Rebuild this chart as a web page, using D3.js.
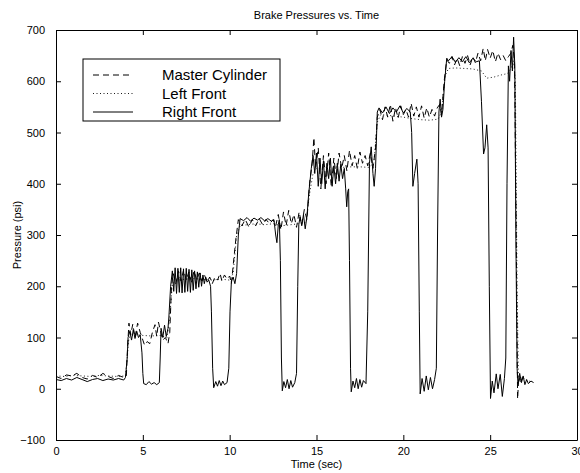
<!DOCTYPE html>
<html>
<head>
<meta charset="utf-8">
<script src="https://cdn.jsdelivr.net/npm/d3@7"></script>
<style>
  html, body { margin: 0; padding: 0; background: #fff; }
  svg { display: block; font-family: "Liberation Sans", Arial, Helvetica, sans-serif; }
</style>
</head>
<body>
<script>
// ---------------- DATA ----------------
const chartTitle = "Brake Pressures vs. Time";
const xLabel = "Time (sec)";
const yLabel = "Pressure (psi)";
const xTicks = [0, 5, 10, 15, 20, 25, 30];
const yTicks = [-100, 0, 100, 200, 300, 400, 500, 600, 700];
const seriesNames = ["Master Cylinder", "Left Front", "Right Front"];

// [time (sec), pressure (psi)]
const masterCylinder = [
  [0,24],[0.3,20],[0.6,27],[0.9,25],[1.2,30],[1.5,22],[1.8,19],[2.1,26],[2.4,22],[2.7,30],[3.0,24],[3.3,20],[3.6,26],[3.9,22],[4.05,25],
  [4.12,80],[4.2,128],[4.3,105],[4.42,126],[4.55,100],[4.7,128],[4.85,110],[5.0,95],[5.1,85],[5.25,92],[5.4,88],[5.55,110],[5.7,125],
  [5.8,102],[5.9,130],[6.0,115],[6.15,95],[6.3,100],[6.45,88],[6.55,110],[6.65,200],[6.75,225],[6.9,205],[7.05,230],[7.2,210],[7.35,232],
  [7.5,212],[7.65,228],[7.8,208],[7.95,230],[8.1,212],[8.25,226],[8.4,210],[8.55,222],[8.7,208],[8.85,218],[9.0,205],[9.15,218],[9.3,212],
  [9.45,225],[9.55,210],[9.7,222],[9.85,214],[10.0,220],[10.1,205],[10.2,240],[10.35,290],[10.5,330],[10.7,318],[10.9,330],[11.1,316],
  [11.3,330],[11.5,318],[11.7,332],[11.9,320],[12.1,330],[12.3,322],[12.5,330],[12.65,318],[12.8,340],[12.95,310],[13.1,345],[13.25,318],
  [13.4,348],[13.55,322],[13.7,340],[13.85,315],[14.0,345],[14.15,320],[14.3,350],[14.45,330],[14.6,400],[14.75,440],[14.85,490],[14.95,430],
  [15.1,470],[15.25,390],[15.4,455],[15.55,400],[15.7,460],[15.85,395],[16.0,450],[16.15,410],[16.3,460],[16.45,430],[16.6,455],[16.75,425],
  [16.9,465],[17.05,435],[17.2,455],[17.35,430],[17.5,462],[17.65,440],[17.8,455],[17.95,435],[18.1,460],[18.25,430],[18.4,470],[18.5,530],
  [18.65,545],[18.8,525],[18.95,550],[19.1,530],[19.25,555],[19.4,522],[19.55,548],[19.7,528],[19.85,552],[20.0,535],[20.15,545],[20.3,530],
  [20.45,557],[20.6,532],[20.75,550],[20.9,530],[21.05,552],[21.2,528],[21.35,548],[21.5,530],[21.65,545],[21.8,532],[21.95,548],[22.1,555],
  [22.2,535],[22.35,600],[22.5,642],[22.65,635],[22.8,648],[22.95,632],[23.1,645],[23.25,630],[23.4,648],[23.55,635],[23.7,650],[23.85,632],
  [24.0,648],[24.15,636],[24.3,655],[24.45,640],[24.6,664],[24.72,640],[24.85,662],[25.0,645],[25.15,660],[25.3,638],[25.45,655],[25.6,642],
  [25.75,650],[25.9,640],[26.05,648],[26.2,655],[26.3,670],[26.4,640],[26.5,300],[26.58,-20],[26.65,25],[26.75,10],[26.85,22],[26.95,12]
];

const leftFront = [
  [0,25],[0.5,24],[1.0,26],[1.5,25],[2.0,24],[2.5,26],[3.0,25],[3.5,24],[4.0,25],[4.1,60],[4.2,100],[4.5,106],[5.0,104],[5.5,103],[6.0,104],
  [6.4,100],[6.55,140],[6.7,205],[7.0,212],[7.5,214],[8.0,215],[8.5,213],[9.0,212],[9.5,214],[10.0,212],[10.2,225],[10.4,300],[10.6,318],
  [11.0,320],[11.5,322],[12.0,320],[12.5,322],[13.0,318],[13.5,320],[14.0,322],[14.4,325],[14.6,380],[14.8,420],[15.0,430],[15.5,432],
  [16.0,433],[16.5,432],[17.0,433],[17.5,433],[18.0,432],[18.3,440],[18.5,520],[18.7,535],[19.0,534],[19.5,532],[20.0,530],[20.5,527],
  [21.0,525],[21.5,524],[22.0,526],[22.2,540],[22.4,610],[22.6,625],[23.0,626],[23.5,625],[24.0,624],[24.5,620],[24.8,606],[25.2,608],
  [25.6,612],[26.0,615],[26.2,625],[26.35,640],[26.45,600],[26.55,200],[26.62,30],[26.7,20],[26.8,15],[26.9,22],[27.0,18],[27.2,15],[27.4,14]
];

const rightFront = [
  [0,18],[0.3,16],[0.6,20],[0.9,17],[1.2,22],[1.5,18],[1.8,14],[2.1,18],[2.4,20],[2.7,16],[3.0,19],[3.3,17],[3.6,20],[3.9,17],[4.0,22],
  [4.1,60],[4.15,100],[4.25,112],[4.35,95],[4.45,115],[4.55,98],[4.65,112],[4.75,100],[4.85,105],[4.95,70],[5.0,30],[5.05,10],[5.2,8],
  [5.35,14],[5.5,9],[5.65,12],[5.8,8],[5.95,12],[6.0,60],[6.05,118],[6.15,100],[6.25,124],[6.35,102],[6.45,118],[6.5,140],[6.6,200],
  [6.7,230],[6.78,190],[6.86,236],[6.94,186],[7.02,235],[7.1,188],[7.18,236],[7.26,187],[7.34,234],[7.42,188],[7.5,235],[7.58,190],[7.66,233],
  [7.74,188],[7.82,232],[7.9,192],[7.98,230],[8.06,195],[8.14,228],[8.22,198],[8.3,226],[8.38,200],[8.46,222],[8.54,205],[8.62,218],[8.7,208],
  [8.8,212],[8.9,200],[8.95,150],[9.02,40],[9.08,2],[9.2,14],[9.3,5],[9.4,16],[9.5,6],[9.6,15],[9.7,8],[9.85,12],[9.95,40],[10.02,150],
  [10.1,210],[10.2,218],[10.3,205],[10.4,225],[10.5,300],[10.6,332],[10.8,328],[11.0,334],[11.2,327],[11.4,333],[11.6,329],[11.8,334],
  [12.0,328],[12.2,332],[12.4,327],[12.55,330],[12.65,300],[12.72,285],[12.8,320],[12.86,330],[12.92,250],[12.98,60],[13.03,-4],[13.12,14],
  [13.22,2],[13.32,18],[13.42,0],[13.52,16],[13.62,3],[13.75,12],[13.85,30],[13.92,200],[13.98,320],[14.05,335],[14.15,318],[14.25,340],
  [14.35,312],[14.45,336],[14.55,380],[14.7,430],[14.8,455],[14.9,420],[15.0,460],[15.1,395],[15.2,450],[15.3,400],[15.4,445],[15.5,390],
  [15.6,440],[15.7,410],[15.8,450],[15.9,395],[16.0,435],[16.1,400],[16.2,440],[16.3,405],[16.4,438],[16.5,410],[16.6,430],[16.68,390],
  [16.74,355],[16.8,385],[16.85,390],[16.9,250],[16.96,40],[17.0,-6],[17.1,15],[17.2,2],[17.3,20],[17.4,0],[17.5,18],[17.6,3],[17.7,16],
  [17.85,10],[17.95,150],[18.05,440],[18.15,472],[18.25,420],[18.32,395],[18.4,430],[18.5,540],[18.6,548],[18.8,538],[19.0,550],[19.2,537],
  [19.4,548],[19.6,540],[19.8,552],[20.0,538],[20.2,547],[20.4,540],[20.48,500],[20.55,395],[20.65,420],[20.78,448],[20.85,400],[20.92,150],
  [20.97,-10],[21.08,20],[21.2,-5],[21.32,25],[21.44,-2],[21.56,22],[21.68,0],[21.8,18],[21.9,40],[21.97,300],[22.05,540],[22.12,565],
  [22.2,530],[22.28,545],[22.38,600],[22.5,645],[22.6,640],[22.8,648],[23.0,637],[23.2,646],[23.4,638],[23.6,648],[23.8,636],[24.0,645],
  [24.2,638],[24.38,640],[24.5,560],[24.62,458],[24.7,470],[24.8,515],[24.88,470],[24.95,200],[25.02,-19],[25.12,15],[25.22,-8],[25.35,29],
  [25.45,0],[25.58,28],[25.7,-15],[25.82,20],[25.9,60],[25.97,400],[26.05,630],[26.12,600],[26.2,660],[26.28,620],[26.35,686],[26.42,630],
  [26.48,300],[26.55,40],[26.6,10],[26.7,30],[26.8,12],[26.9,25],[27.0,8],[27.1,18],[27.2,10],[27.35,15],[27.5,12]
];

// ---------------- LAYOUT ----------------
const W = 580, H = 473;
const L = 56, R = 577, T = 30, B = 440;

const svg = d3.select("body").append("svg").attr("width", W).attr("height", H);

const x = d3.scaleLinear().domain([0, 30]).range([L, R]);
const y = d3.scaleLinear().domain([-100, 700]).range([B, T]);

const line = d3.line().x(d => x(d[0])).y(d => y(d[1]));

svg.append("clipPath").attr("id", "plotclip")
  .append("rect").attr("x", L).attr("y", T).attr("width", R - L).attr("height", B - T);

const plot = svg.append("g").attr("clip-path", "url(#plotclip)");

plot.append("path").datum(masterCylinder).attr("d", line)
  .attr("fill", "none").attr("stroke", "#000").attr("stroke-width", 1)
  .attr("stroke-dasharray", "6,4");
plot.append("path").datum(leftFront).attr("d", line)
  .attr("fill", "none").attr("stroke", "#000").attr("stroke-width", 0.9)
  .attr("stroke-dasharray", "1,2.5");
plot.append("path").datum(rightFront).attr("d", line)
  .attr("fill", "none").attr("stroke", "#000").attr("stroke-width", 1);

// Axes (MATLAB style: box with inward ticks on all four sides)
const tickLen = 5;
const fontTick = "11px";

const axB = svg.append("g").attr("transform", `translate(0,${B})`)
  .call(d3.axisBottom(x).tickValues(xTicks).tickSizeInner(-tickLen).tickSizeOuter(0).tickPadding(7).tickFormat(d3.format("d")));
const axT = svg.append("g").attr("transform", `translate(0,${T})`)
  .call(d3.axisTop(x).tickValues(xTicks).tickSizeInner(-tickLen).tickSizeOuter(0).tickFormat(""));
const axL = svg.append("g").attr("transform", `translate(${L},0)`)
  .call(d3.axisLeft(y).tickValues(yTicks).tickSizeInner(-tickLen).tickSizeOuter(0).tickPadding(11)
    .tickFormat(d => d < 0 ? "\u2212" + Math.abs(d) : String(d)));
const axR = svg.append("g").attr("transform", `translate(${R},0)`)
  .call(d3.axisRight(y).tickValues(yTicks).tickSizeInner(-tickLen).tickSizeOuter(0).tickFormat(""));

[axB, axT, axL, axR].forEach(g => {
  g.select(".domain").attr("stroke", "#000").attr("stroke-width", 1);
  g.selectAll(".tick line").attr("stroke", "#000").attr("stroke-width", 1);
  g.selectAll(".tick text").attr("fill", "#000").style("font-size", fontTick)
    .style("font-family", "'Liberation Sans', Arial, sans-serif");
});

// Title and labels
svg.append("text").attr("x", (L + R) / 2).attr("y", 19).attr("text-anchor", "middle")
  .style("font-size", "11px").text(chartTitle);
svg.append("text").attr("x", (L + R) / 2).attr("y", 468).attr("text-anchor", "middle")
  .style("font-size", "11px").text(xLabel);
svg.append("text").attr("transform", `translate(21,${(T + B) / 2}) rotate(-90)`).attr("text-anchor", "middle")
  .style("font-size", "11px").text(yLabel);

// Legend
const legX = 83, legY = 59, legW = 197, legH = 62;
const lg = svg.append("g");
lg.append("rect").attr("x", legX).attr("y", legY).attr("width", legW).attr("height", legH)
  .attr("fill", "#fff").attr("stroke", "#000").attr("stroke-width", 1);
const legStyles = [
  { dash: "6,4", w: 1 },
  { dash: "1,2.5", w: 0.9 },
  { dash: null, w: 1 }
];
const legRows = [75, 93.5, 112];
seriesNames.forEach((name, i) => {
  const ly = legRows[i];
  const ln = lg.append("line").attr("x1", 93).attr("x2", 133).attr("y1", ly).attr("y2", ly)
    .attr("stroke", "#000").attr("stroke-width", legStyles[i].w);
  if (legStyles[i].dash) ln.attr("stroke-dasharray", legStyles[i].dash);
  lg.append("text").attr("x", 162).attr("y", ly + 5).style("font-size", "15px").text(name);
});
</script>
</body>
</html>
